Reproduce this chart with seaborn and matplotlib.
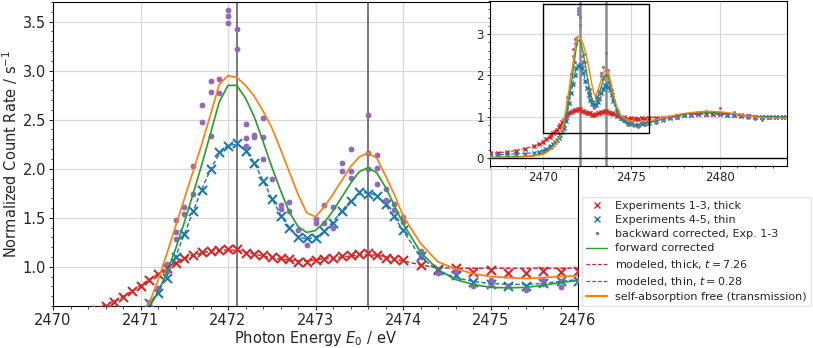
import numpy as np
import matplotlib
matplotlib.use("Agg")
import matplotlib.pyplot as plt
from matplotlib.lines import Line2D
from matplotlib.patches import Rectangle
from matplotlib.ticker import MultipleLocator
import seaborn as sns

# ---------------- data ----------------
energy = [2467.0, 2467.5, 2468.0, 2468.5, 2469.0, 2469.5, 2469.8, 2470.0, 2470.2, 2470.4,
          2470.5, 2470.6, 2470.7, 2470.8, 2470.9, 2471.0, 2471.1, 2471.2, 2471.3, 2471.4,
          2471.5, 2471.6, 2471.7, 2471.8, 2471.9, 2472.0, 2472.1, 2472.2, 2472.3, 2472.4,
          2472.5, 2472.6, 2472.7, 2472.8, 2472.9, 2473.0, 2473.1, 2473.2, 2473.3, 2473.4,
          2473.5, 2473.6, 2473.7, 2473.8, 2473.9, 2474.0, 2474.2, 2474.4, 2474.6, 2474.8,
          2475.0, 2475.2, 2475.4, 2475.6, 2475.8, 2476.0, 2476.4, 2476.8, 2477.2, 2477.6,
          2478.0, 2478.4, 2478.8, 2479.2, 2479.6, 2480.0, 2480.4, 2480.8, 2481.2, 2481.6,
          2482.0, 2482.4, 2482.8, 2483.2, 2483.6, 2484.0]

exp_thick = [0.12, 0.13, 0.15, 0.18, 0.23, 0.29, 0.34, 0.39, 0.45, 0.52,
             0.56, 0.60, 0.64, 0.69, 0.75, 0.80, 0.87, 0.93, 0.99, 1.04,
             1.09, 1.12, 1.15, 1.16, 1.17, 1.18, 1.18, 1.14, 1.13, 1.12,
             1.10, 1.09, 1.08, 1.05, 1.05, 1.07, 1.08, 1.09, 1.11, 1.12,
             1.13, 1.14, 1.12, 1.09, 1.08, 1.07, 1.02, 0.98, 0.99, 0.95,
             0.97, 0.94, 0.94, 0.96, 0.95, 0.96, 0.96, 0.98, 1.00, 1.02,
             1.04, 1.05, 1.06, 1.07, 1.06, 1.06, 1.05, 1.04, 1.02, 1.01,
             1.00, 0.99, 0.99, 1.00, 1.00, 1.00]

exp_thin = [0.08, 0.09, 0.09, 0.10, 0.11, 0.13, 0.15, 0.18, 0.22, 0.27,
            0.30, 0.34, 0.38, 0.43, 0.49, 0.55, 0.63, 0.73, 0.89, 1.10,
            1.33, 1.57, 1.78, 2.00, 2.17, 2.23, 2.26, 2.18, 2.06, 1.87,
            1.69, 1.52, 1.40, 1.30, 1.29, 1.29, 1.36, 1.45, 1.57, 1.67,
            1.76, 1.74, 1.72, 1.64, 1.52, 1.37, 1.11, 0.97, 0.92, 0.84,
            0.82, 0.80, 0.80, 0.83, 0.85, 0.86, 0.89, 0.93, 0.97, 1.00,
            1.03, 1.05, 1.06, 1.07, 1.07, 1.06, 1.05, 1.04, 1.03, 1.01,
            1.00, 0.99, 0.99, 1.00, 1.00, 1.00]

forward_corr = [0.02, 0.02, 0.03, 0.03, 0.04, 0.06, 0.08, 0.11, 0.15, 0.21,
                0.25, 0.29, 0.34, 0.40, 0.46, 0.52, 0.59, 0.74, 0.94, 1.18,
                1.45, 1.74, 2.04, 2.36, 2.68, 2.85, 2.85, 2.72, 2.53, 2.28,
                2.02, 1.78, 1.56, 1.41, 1.35, 1.37, 1.45, 1.57, 1.71, 1.85,
                1.97, 2.01, 1.96, 1.81, 1.63, 1.44, 1.15, 0.97, 0.87, 0.82,
                0.79, 0.785, 0.79, 0.81, 0.84, 0.86, 0.90, 0.95, 0.99, 1.03,
                1.06, 1.08, 1.09, 1.10, 1.10, 1.09, 1.08, 1.06, 1.04, 1.02,
                1.01, 1.00, 1.00, 1.00, 1.00, 1.00]

model_thick = [0.12, 0.13, 0.15, 0.18, 0.23, 0.29, 0.34, 0.39, 0.45, 0.52,
               0.57, 0.61, 0.65, 0.70, 0.75, 0.81, 0.87, 0.93, 0.99, 1.04,
               1.08, 1.12, 1.14, 1.16, 1.17, 1.17, 1.17, 1.15, 1.13, 1.11,
               1.09, 1.08, 1.07, 1.06, 1.06, 1.07, 1.08, 1.09, 1.10, 1.11,
               1.12, 1.12, 1.12, 1.10, 1.08, 1.06, 1.02, 0.99, 0.985, 0.985,
               0.985, 0.985, 0.985, 0.985, 0.985, 0.985, 0.985, 0.99, 1.00, 1.02,
               1.04, 1.05, 1.06, 1.06, 1.06, 1.06, 1.05, 1.04, 1.03, 1.02,
               1.01, 1.00, 1.00, 1.00, 1.00, 1.00]

model_thin = [0.08, 0.08, 0.09, 0.10, 0.11, 0.13, 0.15, 0.18, 0.22, 0.27,
              0.30, 0.34, 0.38, 0.43, 0.48, 0.54, 0.62, 0.74, 0.90, 1.10,
              1.33, 1.56, 1.79, 1.99, 2.15, 2.24, 2.25, 2.19, 2.06, 1.88,
              1.70, 1.53, 1.40, 1.31, 1.28, 1.30, 1.36, 1.46, 1.57, 1.67,
              1.74, 1.76, 1.72, 1.63, 1.51, 1.37, 1.10, 0.96, 0.89, 0.85,
              0.83, 0.82, 0.82, 0.83, 0.85, 0.87, 0.90, 0.94, 0.98, 1.01,
              1.04, 1.06, 1.07, 1.08, 1.08, 1.07, 1.06, 1.05, 1.03, 1.02,
              1.01, 1.00, 1.00, 1.00, 1.00, 1.00]

transmission = [0.01, 0.01, 0.02, 0.02, 0.03, 0.05, 0.07, 0.09, 0.13, 0.19,
                0.23, 0.28, 0.33, 0.39, 0.46, 0.53, 0.63, 0.86, 1.13, 1.41,
                1.69, 1.97, 2.25, 2.55, 2.86, 2.95, 2.93, 2.85, 2.74, 2.59,
                2.42, 2.20, 1.97, 1.74, 1.55, 1.51, 1.61, 1.74, 1.88, 2.02,
                2.12, 2.16, 2.11, 1.93, 1.74, 1.52, 1.24, 1.05, 0.98, 0.93,
                0.90, 0.89, 0.88, 0.89, 0.90, 0.91, 0.93, 0.97, 1.01, 1.05,
                1.08, 1.10, 1.12, 1.13, 1.13, 1.12, 1.10, 1.08, 1.05, 1.02,
                1.00, 0.98, 0.97, 0.97, 0.97, 0.97]

backward_energy = [2467.0, 2467.5, 2468.0, 2468.5, 2469.0, 2469.5, 2470.0, 2470.4, 2470.8,
                   2471.1, 2471.2, 2471.3, 2471.3, 2471.4, 2471.4, 2471.4, 2471.5, 2471.5,
                   2471.6, 2471.6, 2471.7, 2471.7, 2471.8, 2471.8, 2471.8, 2471.9, 2471.9,
                   2472.0, 2472.0, 2472.0, 2472.1, 2472.1, 2472.2, 2472.2, 2472.2,
                   2472.3, 2472.3, 2472.4, 2472.4, 2472.4, 2472.5, 2472.6, 2472.6,
                   2472.7, 2472.7, 2472.8, 2472.9, 2473.0, 2473.0, 2473.1, 2473.1,
                   2473.2, 2473.2, 2473.3, 2473.3, 2473.4, 2473.4, 2473.4,
                   2473.6, 2473.6, 2473.6, 2473.7, 2473.7, 2473.7, 2473.8, 2473.8,
                   2473.9, 2473.9, 2474.0, 2474.0, 2474.2, 2474.2, 2474.4, 2474.6,
                   2474.8, 2475.0, 2475.0, 2475.2, 2475.4, 2475.6, 2475.6, 2475.8, 2475.8,
                   2476.0, 2476.4, 2476.8, 2476.8, 2477.2, 2477.6, 2477.6, 2478.0,
                   2478.4, 2478.4, 2478.8, 2479.2, 2479.2, 2479.6, 2480.0, 2480.0,
                   2480.4, 2480.8, 2480.8, 2481.2, 2481.6, 2481.6, 2482.0, 2482.4,
                   2482.4, 2482.8]
backward_corr = [0.04, 0.05, 0.05, 0.06, 0.08, 0.10, 0.15, 0.25, 0.41,
                 0.64, 0.78, 1.03, 0.96, 1.28, 1.35, 1.48, 1.54, 1.61,
                 1.74, 2.03, 2.48, 2.65, 2.33, 2.78, 2.89, 2.91, 2.77,
                 3.49, 3.56, 3.62, 3.42, 3.22, 2.46, 2.31, 2.23,
                 2.34, 2.32, 2.52, 2.32, 2.10, 1.90, 1.63, 1.59,
                 1.66, 1.57, 1.38, 1.22, 1.49, 1.45, 1.63, 1.45,
                 1.61, 1.40, 2.06, 1.98, 2.20, 1.98, 1.91,
                 2.55, 2.16, 2.00, 2.14, 2.01, 1.84, 1.79, 1.68,
                 1.64, 1.58, 1.51, 1.46, 1.16, 1.10, 0.94, 0.96,
                 0.80, 0.87, 0.82, 0.80, 0.76, 0.87, 0.82, 0.85, 0.79,
                 0.87, 0.86, 0.92, 0.96, 0.98, 1.03, 0.97, 1.06,
                 1.09, 1.03, 1.11, 1.13, 1.05, 1.10, 1.09, 1.22,
                 1.06, 1.11, 1.02, 1.04, 0.98, 1.05, 0.95, 1.00,
                 0.93, 0.97]

peak_lines = [2472.1, 2473.6]
labels = ["Experiments 1-3, thick", "Experiments 4-5, thin", "backward corrected, Exp. 1-3",
          "forward corrected", "modeled, thick, $t = 7.26$", "modeled, thin, $t = 0.28$",
          "self-absorption free (transmission)"]

C_RED, C_BLUE, C_PURPLE = "#d62728", "#1f77b4", "#9467bd"
C_GREEN, C_ORANGE = "#2ca02c", "#ff7f0e"

# ---------------- style ----------------
sns.set_style("ticks", {"axes.grid": True, "grid.color": "#d6d6d6",
                        "axes.edgecolor": "black"})
plt.rcParams["font.family"] = ["DejaVu Sans"]
plt.rcParams["mathtext.fontset"] = "dejavusans"

fig = plt.figure(figsize=(8.13, 3.48), dpi=100)
ax = fig.add_axes([53 / 813, 42 / 348, 525 / 813, 304 / 348])
axin = fig.add_axes([489.5 / 813, 182.5 / 348, 297.5 / 813, 164.5 / 348])


def draw(a, ms_x, lw_x, ms_dot, lw_line, vl_color, vl_lw):
    for xv in peak_lines:
        a.axvline(xv, color=vl_color, lw=vl_lw, zorder=1.6)
    sns.scatterplot(x=energy, y=exp_thick, ax=a, marker="x", s=ms_x ** 2,
                    linewidth=lw_x, color=C_RED, zorder=3, legend=False)
    sns.scatterplot(x=energy, y=exp_thin, ax=a, marker="x", s=ms_x ** 2,
                    linewidth=lw_x, color=C_BLUE, zorder=3, legend=False)
    sns.scatterplot(x=backward_energy, y=backward_corr, ax=a, marker="o",
                    s=ms_dot ** 2, linewidth=0, color=C_PURPLE, zorder=3, legend=False)
    sns.lineplot(x=energy, y=forward_corr, ax=a, color=C_GREEN, lw=lw_line,
                 estimator=None, sort=False, zorder=4)
    sns.lineplot(x=energy, y=model_thick, ax=a, color=C_RED, lw=lw_line * 0.85,
                 linestyle=(0, (3, 1.6)), estimator=None, sort=False, zorder=4)
    sns.lineplot(x=energy, y=model_thin, ax=a, color=C_BLUE, lw=lw_line * 0.85,
                 linestyle=(0, (3, 1.6)), estimator=None, sort=False, zorder=4)
    sns.lineplot(x=energy, y=transmission, ax=a, color=C_ORANGE, lw=lw_line,
                 estimator=None, sort=False, zorder=4)


draw(ax, 6.5, 1.5, 4.2, 1.25, "#555555", 1.1)
ax.set_xlim(2470, 2476)
ax.set_ylim(0.6, 3.7)
ax.xaxis.set_major_locator(MultipleLocator(1))
ax.xaxis.set_minor_locator(MultipleLocator(0.2))
ax.yaxis.set_major_locator(MultipleLocator(0.5))
ax.yaxis.set_minor_locator(MultipleLocator(0.1))
ax.tick_params(which="major", labelsize=10.5, length=3, pad=2)
ax.tick_params(which="minor", length=1.8)
ax.ticklabel_format(useOffset=False, axis="x")
ax.set_xlabel("Photon Energy $E_0$ / eV", fontsize=10.5, labelpad=1)
ax.set_ylabel("Normalized Count Rate / s$^{-1}$", fontsize=10.5, labelpad=2)

draw(axin, 3.0, 1.0, 2.2, 1.0, "#8c8c8c", 1.8)
axin.axhline(0, color="black", lw=1.0, zorder=2)
axin.add_patch(Rectangle((2470, 0.61), 6, 3.11, fill=False, edgecolor="black",
                         lw=1.0, zorder=5))
axin.set_xlim(2467.0, 2483.8)
axin.set_ylim(-0.18, 3.80)
axin.xaxis.set_major_locator(MultipleLocator(5))
axin.xaxis.set_minor_locator(MultipleLocator(1))
axin.yaxis.set_major_locator(MultipleLocator(1))
axin.yaxis.set_minor_locator(MultipleLocator(0.2))
axin.tick_params(which="major", labelsize=8.5, length=2.5, pad=1.5)
axin.tick_params(which="minor", length=1.5)
axin.ticklabel_format(useOffset=False, axis="x")
axin.set_xlabel("")
axin.set_ylabel("")

handles = [
    Line2D([], [], ls="none", marker="x", color=C_RED, ms=4, mew=1.0),
    Line2D([], [], ls="none", marker="x", color=C_BLUE, ms=4, mew=1.0),
    Line2D([], [], ls="none", marker="o", color=C_PURPLE, ms=2.5, mew=0),
    Line2D([], [], color=C_GREEN, lw=1.0),
    Line2D([], [], color=C_RED, lw=0.9, ls=(0, (3, 1.6))),
    Line2D([], [], color=C_BLUE, lw=0.9, ls=(0, (3, 1.6))),
    Line2D([], [], color=C_ORANGE, lw=1.6),
]
leg = fig.legend(handles, labels, loc="lower right", bbox_to_anchor=(811 / 813, 42 / 348),
                 fontsize=8, labelspacing=0.38, handlelength=1.9, handletextpad=0.75,
                 borderpad=0.35, frameon=True, fancybox=True, borderaxespad=0)
leg.get_frame().set_edgecolor("#dddddd")

fig.savefig("out.png", dpi=100)
